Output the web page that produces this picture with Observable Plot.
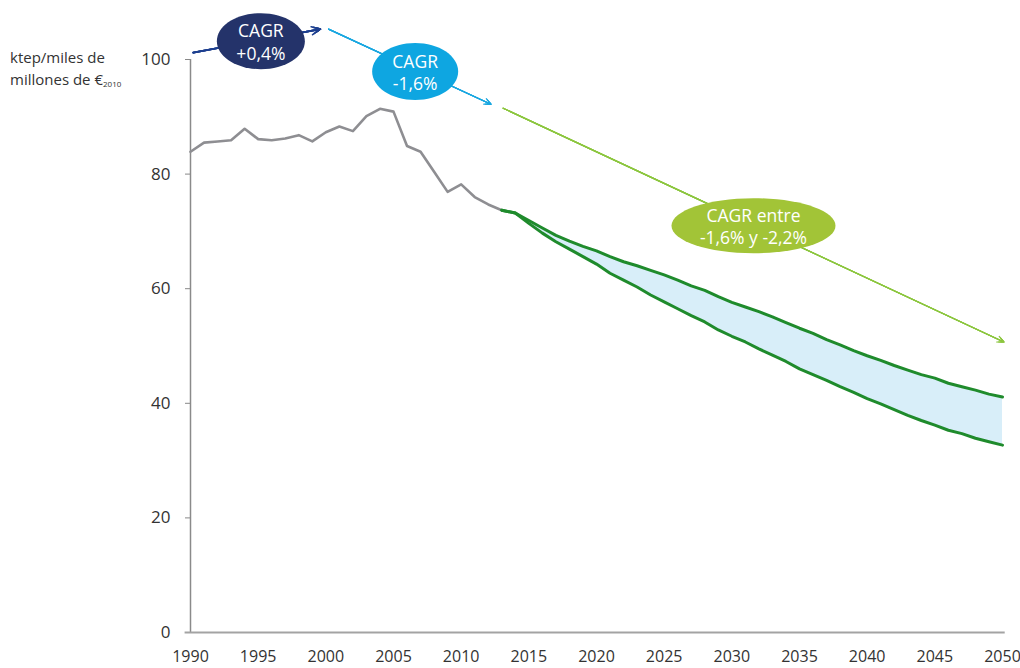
<!DOCTYPE html>
<html>
<head>
<meta charset="utf-8">
<script src="https://cdn.jsdelivr.net/npm/d3@7"></script>
<script src="https://cdn.jsdelivr.net/npm/@observablehq/plot@0.6"></script>
<style>
  body { margin: 0; background: #fff; font-family: "Open Sans", sans-serif; }
  #wrap { position: relative; width: 1020px; height: 668px; }
  #ylab { position: absolute; left: 10px; top: 46px; font-size: 15px; line-height: 22px; color: #333; }
  #ylab sub { font-size: 8px; vertical-align: -2px; }
</style>
</head>
<body>
<div id="wrap">
  <div id="ylab">ktep/miles de<br>millones de €<sub>2010</sub></div>
</div>
<script>
// Historical intensity 1990-2013
const histYears = d3.range(1990, 2014);
const histValues = [83.9, 85.5, 85.7, 85.9, 87.9, 86.1, 85.9, 86.2, 86.8, 85.7, 87.3, 88.3,
  87.5, 90.1, 91.4, 90.9, 84.9, 83.9, 80.4, 76.9, 78.2, 76.0, 74.7, 73.7];

// Projection 2013-2050
const projYears = d3.range(2013, 2051);
const upperValues = [73.7, 73.2, 71.9, 70.6, 69.3, 68.3, 67.4, 66.6, 65.6, 64.7, 64.0, 63.2,
  62.4, 61.5, 60.5, 59.7, 58.6, 57.6, 56.8, 56.0, 55.1, 54.1, 53.1, 52.2, 51.1, 50.2, 49.2,
  48.3, 47.5, 46.6, 45.8, 45.0, 44.4, 43.5, 42.9, 42.3, 41.6, 41.1];
const lowerValues = [73.7, 73.2, 71.4, 69.7, 68.2, 66.9, 65.6, 64.3, 62.7, 61.5, 60.3, 58.9,
  57.7, 56.5, 55.3, 54.2, 52.8, 51.7, 50.7, 49.5, 48.4, 47.3, 46.0, 45.0, 44.0, 42.9, 41.9,
  40.8, 39.9, 38.9, 37.9, 37.0, 36.2, 35.3, 34.7, 33.9, 33.3, 32.7];

const xTicks = d3.range(1990, 2051, 5);
const yTicks = [0, 20, 40, 60, 80, 100];

// CAGR annotations (arrows in data units)
const arrowX1 = [1990.2, 2000.2, 2013.1];
const arrowY1 = [101.2, 105.3, 91.5];
const arrowX2 = [1999.6, 2012.2, 2050.1];
const arrowY2 = [105.3, 92.2, 50.7];
const badgeX = [1995.2, 2006.6, 2031.6];
const badgeY = [103.2, 97.9, 71.0];
const badgeText = ["CAGR\n+0,4%", "CAGR\n-1,6%", "CAGR entre\n-1,6% y -2,2%"];
const badgeColors = ["#24336a", "#0ea6e1", "#a2c437"];

const hist = histYears.map((year, i) => ({year, value: histValues[i]}));
const proj = projYears.map((year, i) => ({year, upper: upperValues[i], lower: lowerValues[i]}));
const arrows = arrowX1.map((x1, i) => ({x1, y1: arrowY1[i], x2: arrowX2[i], y2: arrowY2[i]}));
const badges = badgeX.map((x, i) => ({x, y: badgeY[i], text: badgeText[i], color: badgeColors[i]}));

function ellipse(rx, ry) {
  return {
    draw(c) {
      const kx = rx * 0.5523, ky = ry * 0.5523;
      c.moveTo(rx, 0);
      c.bezierCurveTo(rx, ky, kx, ry, 0, ry);
      c.bezierCurveTo(-kx, ry, -rx, ky, -rx, 0);
      c.bezierCurveTo(-rx, -ky, -kx, -ry, 0, -ry);
      c.bezierCurveTo(kx, -ry, rx, -ky, rx, 0);
      c.closePath();
    }
  };
}

const arrowColors = ["#1d3f8f", "#1aa7e0", "#8cc63f"];
const arrowMarks = [];
for (let i = 0; i < 3; i++) {
  for (const hl of [9, 7, 5, 3]) {
    arrowMarks.push(Plot.arrow([arrows[i]], {
      x1: "x1", y1: "y1", x2: "x2", y2: "y2",
      stroke: arrowColors[i], strokeWidth: i === 0 ? 1.6 : 1.2,
      headLength: hl, headAngle: 50
    }));
  }
}

const chart = Plot.plot({
  width: 1020,
  height: 668,
  marginLeft: 190,
  marginRight: 18,
  marginTop: 59,
  marginBottom: 36,
  style: {fontFamily: "'Open Sans', sans-serif", fontSize: "16px", color: "#333", background: "transparent", overflow: "visible"},
  x: {domain: [1990, 2050]},
  y: {domain: [0, 100]},
  marks: [
    Plot.axisX({ticks: xTicks, tickFormat: d3.format("d"), tickSize: 0, tickPadding: 18, fontSize: 16, fill: "#333", label: null}),
    Plot.axisY({ticks: yTicks, tickSize: 5, tickPadding: 15, fontSize: 17, stroke: "#888", fill: "#333", label: null}),
    Plot.ruleX([1990], {y1: 0, y2: 100, stroke: "#8a8a8a", strokeWidth: 1.5}),
    Plot.ruleY([0], {x1: 1989.6, x2: 2050.2, stroke: "#a3a3a3", strokeWidth: 2}),
    Plot.areaY(proj, {x: "year", y1: "lower", y2: "upper", fill: "#d8eef9"}),
    Plot.line(hist, {x: "year", y: "value", stroke: "#8e8e92", strokeWidth: 2.6}),
    Plot.line(proj, {x: "year", y: "upper", stroke: "#1f8b2c", strokeWidth: 3}),
    Plot.line(proj, {x: "year", y: "lower", stroke: "#1f8b2c", strokeWidth: 3}),
    ...arrowMarks,
    Plot.dot([badges[0]], {x: "x", y: "y", fill: "color", symbol: ellipse(44, 28), stroke: "none"}),
    Plot.dot([badges[1]], {x: "x", y: "y", fill: "color", symbol: ellipse(43, 28.5), stroke: "none"}),
    Plot.dot([badges[2]], {x: "x", y: "y", fill: "color", symbol: ellipse(82, 27.5), stroke: "none"}),
    Plot.text(badges, {x: "x", y: "y", text: "text", fill: "white", fontSize: 17.5, lineHeight: 1.28})
  ]
});
document.getElementById("wrap").prepend(chart);
</script>
</body>
</html>
